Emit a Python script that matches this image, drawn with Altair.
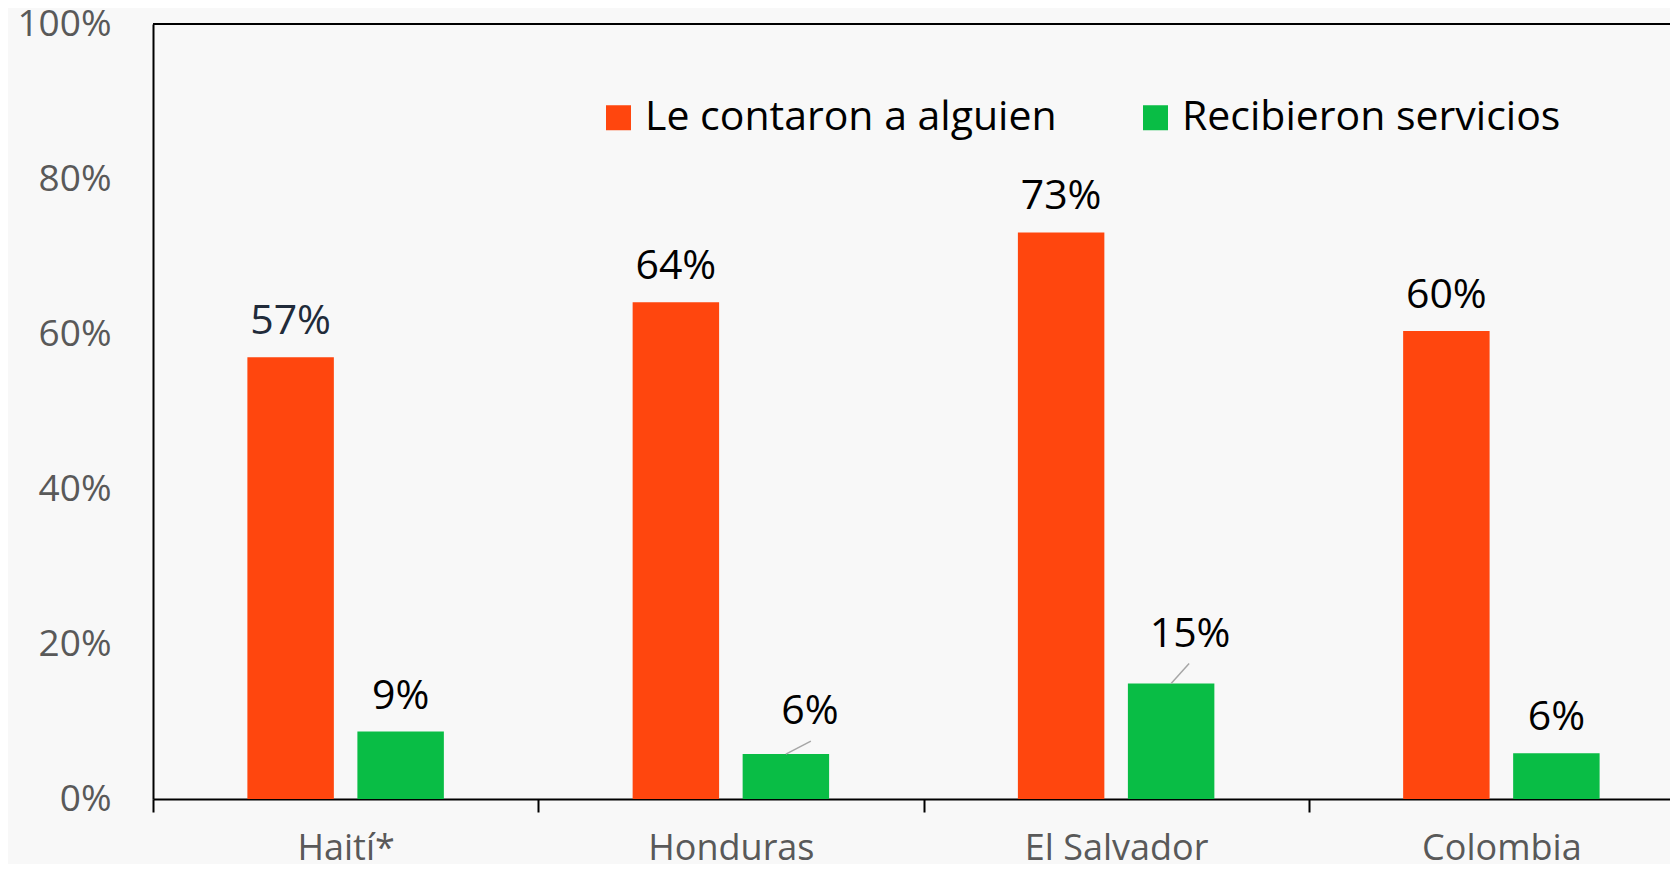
import altair as alt
import pandas as pd

countries = ["Haití*", "Honduras", "El Salvador", "Colombia"]
series_names = ["Le contaron a alguien", "Recibieron servicios"]
told = [57.0, 64.1, 73.1, 60.4]
services = [8.7, 5.8, 14.9, 5.9]
colors = ["#FF460E", "#09BD45"]
y_ticks = [0, 20, 40, 60, 80, 100]

rows = []
for c, a, b in zip(countries, told, services):
    rows.append({"country": c, "series": series_names[0], "value": a})
    rows.append({"country": c, "series": series_names[1], "value": b})
df = pd.DataFrame(rows)

FONT = "Open Sans"

xscale = alt.Scale(domain=countries, range=[0, 1541], paddingInner=0, paddingOuter=0)
yscale = alt.Scale(domain=[0, 100], nice=False)
offscale = alt.Scale(domain=series_names, paddingInner=0.214, paddingOuter=0.858)

x_enc = alt.X(
    "country:N", scale=xscale, sort=countries, title=None,
    axis=alt.Axis(
        domainColor="black", domainWidth=2, tickBand="extent", tickColor="black",
        tickWidth=2, tickSize=13, labelFont=FONT, labelFontSize=36,
        labelColor="#595959", labelPadding=47, labelBaseline="alphabetic",
        labelAngle=0, labelLimit=0, grid=False,
    ),
)
y_enc = alt.Y(
    "value:Q", scale=yscale, title=None,
    axis=alt.Axis(
        values=y_ticks, labelExpr="datum.value + '%'", domainColor="black",
        domainWidth=2, ticks=False, labelPadding=42, labelFont=FONT,
        labelFontSize=37, labelColor="#595959", grid=False,
    ),
)

base = alt.Chart(df).transform_calculate(label="format(datum.value, '.0f') + '%'")

bars = base.mark_bar().encode(
    x=x_enc,
    xOffset=alt.XOffset("series:N", scale=offscale, sort=series_names),
    y=y_enc,
    color=alt.Color(
        "series:N", scale=alt.Scale(domain=series_names, range=colors),
        sort=series_names,
        legend=alt.Legend(
            title=None, orient="none", legendX=445, legendY=73, direction="horizontal",
            symbolType="square", symbolSize=625, symbolStrokeWidth=0,
            labelFont=FONT, labelFontSize=41, labelColor="black", labelLimit=0,
            labelOffset=6, columnPadding=78, padding=0, offset=0,
        ),
    ),
)

normal = "!((datum.country == 'Honduras' || datum.country == 'El Salvador') && datum.series == 'Recibieron servicios')"
labels = base.transform_filter(normal).mark_text(
    font=FONT, fontSize=41, baseline="alphabetic", dy=-23
).encode(
    x=alt.X("country:N", scale=xscale, sort=countries),
    xOffset=alt.XOffset("series:N", scale=offscale, sort=series_names),
    y=alt.Y("value:Q", scale=yscale),
    text="label:N",
    color=alt.condition(
        "datum.country == 'Haití*' && datum.series == 'Le contaron a alguien'",
        alt.value("#212B3A"), alt.value("black"),
    ),
)

def special(country, dx, dy, lx, ly):
    sel = base.transform_filter(
        f"datum.country == '{country}' && datum.series == 'Recibieron servicios'"
    )
    t = sel.mark_text(
        font=FONT, fontSize=41, baseline="alphabetic", dx=dx, dy=dy, color="black"
    ).encode(
        x=alt.X("country:N", scale=xscale, sort=countries),
        xOffset=alt.XOffset("series:N", scale=offscale, sort=series_names),
        y=alt.Y("value:Q", scale=yscale),
        text="label:N",
    )
    r = sel.mark_rule(
        color="#A6A6A6", strokeWidth=1.5, xOffset=55, x2Offset=55 + lx, y2Offset=ly
    ).encode(
        x=alt.X("country:N", scale=xscale, sort=countries),
        x2="country:N",
        y=alt.Y("value:Q", scale=yscale),
        y2="value:Q",
    )
    return [r, t]

top_line = alt.Chart(df).mark_rule(color="black", strokeWidth=2).encode(
    y=alt.datum(100, scale=yscale)
)

layers = [bars, labels, top_line]
layers += special("Honduras", 24, -30, 25, -13)
layers += special("El Salvador", 19, -37, 18, -20)

chart = alt.layer(*layers).properties(
    width=1517, height=775,
    autosize=alt.AutoSizeParams(type="none"),
    padding={"left": 145, "top": 16, "right": 0, "bottom": 65},
    background="#F8F8F8",
).configure_view(stroke=None)

chart.save("out.html", embed_options={"renderer": "svg", "actions": False})
